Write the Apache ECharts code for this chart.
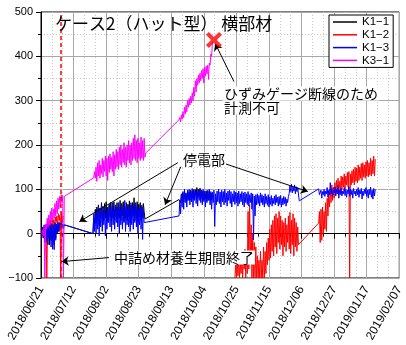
<!DOCTYPE html>
<html><head><meta charset="utf-8">
<script src="https://cdn.jsdelivr.net/npm/echarts@6/dist/echarts.min.js"></script>
<style>html,body{margin:0;padding:0;background:#fff}#c{width:406px;height:345px}</style>
</head><body><div id="c"></div>
<script>
// ---- axis range ----
const axisStart = '2018-06-21';
const axisEnd = '2019-02-07';
const tickDays = 21;
const yMin = -100, yMax = 500, yStep = 100;

const seriesNames = ['K1-1', 'K1-2', 'K1-3', 'K3-1'];

// ---- strain records: each segment = start time + daily [low, high] readings ----
// K1-1
const k11aStart = '2018-06-21 12:00';
const k11a = [[-5,12],[-10,15],[-15,18],[-20,20],[-10,22],[-25,18],[-15,22],[-20,20],[-25,24],[-10,22],[0,25],[5,24],[10,26],[12,22],[15,20],[16,20]];
const k11bStart = '2018-07-24 12:00';
const k11b = [[0,35],[20,55],[25,60],[30,65],[20,58],[35,70],[25,62],[30,68],[35,72],[25,60],[30,66],[40,70],[28,64],[35,72],[30,62],[38,70],[25,66],[35,75],[30,68],[40,72],[28,62],[35,70],[30,66],[38,74],[25,64],[35,70],[40,81],[30,68],[35,72],[28,66],[38,70],[30,64],[35,68],[50,33]];
const k11cStart = '2018-09-18';
const k11c = [[77,80],[70,88],[75,92],[72,95],[78,90],[74,96],[80,94],[76,98],[78,95],[80,100],[82,98],[85,104],[80,100],[84,102],[78,98],[80,96],[76,95],[78,97],[74,94],[78,96],[75,92],[76,94]];

// K1-2
const k12aStart = '2018-06-22 18:00';
const k12a = [[0,10],[5,20],[-100,25],[10,28],[15,30],[10,35],[20,32],[15,38],[25,40],[20,45],[30,42],[-100,48],[25,40]];
const k12bStart = '2018-10-24';
const k12b = [[-100,-70],[-100,-60],[-95,-50],[-100,-65],[-90,-40],[-100,-55],[-80,-35],[-100,-45],[-90,50],[-80,65],[-60,20],[-100,0],[-100,-20],[-100,-30],[-100,-50],[-100,-60],[-100,-40],[-100,-60],[-100,-30],[-100,-40],[-90,-20],[-70,-10],[-60,10],[-55,20],[-40,30],[-50,40],[-30,45],[-45,35],[-20,50],[-35,40],[-25,30],[-50,25],[-30,35],[-40,20],[-20,40],[-35,48],[-45,30],[-25,45],[-50,35],[-30,25],[-40,15],[-25,-25]];
const k12cStart = '2018-12-17';
const k12c = [[24,50],[-20,55],[-15,60],[0,50],[10,70],[5,80],[40,90],[60,100],[70,110],[75,105],[80,115],[85,120],[90,125],[95,118],[95,130],[100,128],[105,135],[100,130],[110,138],[105,140],[-100,135],[110,142],[115,145],[110,150],[118,148],[115,155],[120,150],[125,158],[120,160],[128,155],[125,162],[130,165],[128,160],[132,170],[130,165],[135,175],[130,168]];

// K1-3
const k13aStart = '2018-06-21 12:00';
const k13a = [[-10,15],[-5,20],[-20,18],[-15,22],[-25,15],[-10,20],[-30,22],[-35,20],[-36,25],[-15,22],[0,25],[5,25],[10,24],[15,22],[12,20],[16,18]];
const k13bStart = '2018-07-24 12:00';
const k13b = [[0,45],[5,45],[0,55],[10,60],[-5,50],[15,65],[5,55],[20,60],[-5,45],[10,55],[25,65],[15,60],[5,70],[20,55],[10,65],[25,60],[15,70],[0,55],[20,65],[10,60],[25,75],[5,60],[20,65],[15,55],[5,70],[20,60],[10,65],[25,70],[15,60],[0,55],[20,65],[10,60],[-13,55],[25,28]];
const k13cStart = '2018-09-18';
const k13c = [[40,75],[45,90],[60,95],[55,100],[70,92],[60,98],[75,100],[65,95],[72,102],[60,96],[75,100],[68,94],[62,98],[75,102],[70,95],[65,100],[72,96],[60,92],[70,98],[75,100],[65,95],[55,92],[70,98],[16,90],[65,96],[72,100],[68,94],[60,98],[72,95],[65,100],[70,92],[62,96],[75,98],[68,95],[60,90],[72,97],[66,94],[70,92],[62,96],[68,90],[72,95],[65,92],[60,94],[70,90],[66,95],[62,88],[70,92],[55,90],[-14,85],[40,88],[65,90],[68,86],[62,92],[70,88],[65,85],[60,90],[68,84],[64,88],[60,82],[66,86],[62,80],[68,85],[65,88],[70,82],[62,84],[66,86],[60,80],[65,84],[68,82],[62,78],[70,84],[90,108],[95,112],[92,105],[96,110],[90,106],[95,104],[100,74]];
const k13dStart = '2018-12-17';
const k13d = [[101,88],[85,98],[80,95],[88,100],[84,96],[90,104],[82,98],[88,115],[90,102],[84,98],[92,105],[86,100],[90,108],[80,98],[88,102],[85,96],[90,104],[86,100],[82,98],[90,106],[84,100],[88,98],[80,102],[90,96],[85,100],[88,104],[82,98],[90,102],[78,96],[86,100],[90,104],[84,98],[80,100],[88,105],[82,98],[78,102],[85,100]];

// K3-1
const k31aStart = '2018-06-21 12:00';
const k31a = [[0,8],[-5,15],[-100,22],[10,35],[15,42],[20,50],[25,58],[30,55],[35,68],[40,74],[45,80],[55,84],[60,88],[70,86],[-100,84],[80,82]];
const k31bStart = '2018-07-25';
const k31b = [[126,140],[125,150],[118,160],[130,165],[125,155],[135,170],[128,165],[140,175],[130,170],[120,175],[138,180],[145,172],[140,185],[130,178],[145,190],[150,185],[145,195],[155,200],[150,190],[160,205],[155,195],[150,200],[165,210],[160,200],[155,205],[165,215],[170,223],[165,210],[160,215],[170,205],[165,218],[170,210],[165,215],[172,182]];
const k31cStart = '2018-09-18';
const k31c = [[257,262],[252,268],[258,275],[262,285],[270,290],[275,300],[285,305],[290,310],[295,318],[300,330],[310,345],[320,350],[335,358],[340,362],[345,368],[350,372],[340,375],[355,378],[360,380],[348,385],[380,405],[400,432]];

// gauge failure point of K3-1
const gaugeBreak = ['2018-10-10 12:00', 437];
// end of infill curing period
const curingEnd = '2018-07-03 12:00';

// annotation arrows: [from, to] in (time, strain)
const gaugeArrow = [['2018-10-23 10:00', 343], ['2018-10-11 07:00', 429]];
const outageArrows = [
  [['2018-09-17 05:00', 160], ['2018-07-15 17:00', 27]],
  [['2018-09-19 02:00', 151], ['2018-09-09', 65]],
  [['2018-10-15 19:00', 160], ['2018-12-10', 95]]
];
const curingArrow = [['2018-08-03 19:00', -54], ['2018-07-04 07:00', -63]];

// ---- helpers ----
const DAY = 86400000;
function T(s) {
  const m = s.match(/(\d+)-(\d+)-(\d+)(?: (\d+):(\d+))?/);
  return Date.UTC(+m[1], +m[2] - 1, +m[3], m[4] ? +m[4] : 0, m[5] ? +m[5] : 0);
}
function band(start, pairs) {
  const t0 = T(start), out = [];
  pairs.forEach((p, i) => {
    out.push([t0 + i * DAY, p[0]]);
    out.push([t0 + (i + 0.5) * DAY, p[1]]);
  });
  return out;
}
function pad(n) { return (n < 10 ? '0' : '') + n; }
function fmtDate(v) {
  const d = new Date(v);
  return d.getUTCFullYear() + '/' + pad(d.getUTCMonth() + 1) + '/' + pad(d.getUTCDate());
}
function pt(p) { return [T(p[0]), p[1]]; }
function arrow(a) { return [{ coord: pt(a[0]) }, { coord: pt(a[1]) }]; }

const dataK11 = band(k11aStart, k11a).concat(band(k11bStart, k11b), band(k11cStart, k11c));
const dataK12 = band(k12aStart, k12a).concat([[T(k12aStart) + 14 * DAY, null]], band(k12bStart, k12b), band(k12cStart, k12c));
const dataK13 = band(k13aStart, k13a).concat(band(k13bStart, k13b), band(k13cStart, k13c), band(k13dStart, k13d));
const dataK31 = band(k31aStart, k31a).concat(band(k31bStart, k31b), band(k31cStart, k31c));

const colors = ['#000000', '#ff0000', '#0000ff', '#ff00ff'];
const jp = '"Noto Sans CJK JP", "Noto Sans", sans-serif';
const latin = '"Liberation Sans", Arial, sans-serif';

function lineSeries(name, data, color, extra) {
  return Object.assign({
    name, type: 'line', data, showSymbol: false, symbol: 'none',
    connectNulls: false, clip: true, animation: false,
    lineStyle: { color, width: 1 }, itemStyle: { color }
  }, extra || {});
}
function note(x, y, text) {
  return {
    type: 'text', x, y, z: 200,
    style: { text, font: '14px ' + jp, fill: '#000', verticalAlign: 'middle', backgroundColor: '#fff', padding: [0, 1, 0, 1] }
  };
}

const chart = echarts.init(document.getElementById('c'), null, { renderer: 'canvas' });
chart.setOption({
  animation: false,
  backgroundColor: '#fff',
  grid: { left: 41, right: 1, top: 12, bottom: 67, show: true, borderColor: '#000', borderWidth: 1, containLabel: false },
  xAxis: {
    type: 'value', min: T(axisStart), max: T(axisEnd), interval: tickDays * DAY,
    axisLine: { show: true, lineStyle: { color: '#000', width: 1 } },
    axisTick: { show: true, length: 5, lineStyle: { color: '#000' } },
    minorTick: { show: true, splitNumber: 3, length: 3, lineStyle: { color: '#000' } },
    splitLine: { show: true, lineStyle: { color: '#a8a8a8', width: 1 } },
    minorSplitLine: { show: true, lineStyle: { color: '#c8c8c8', type: [1, 2], width: 1 } },
    axisLabel: { rotate: 60, margin: 9, fontSize: 12, fontFamily: latin, color: '#000', formatter: fmtDate, showMinLabel: true, showMaxLabel: true, hideOverlap: false }
  },
  yAxis: {
    type: 'value', min: yMin, max: yMax, interval: yStep,
    axisLine: { show: true, lineStyle: { color: '#000', width: 1 } },
    axisTick: { show: true, length: 5, lineStyle: { color: '#000' } },
    minorTick: { show: true, splitNumber: 2, length: 3, lineStyle: { color: '#000' } },
    splitLine: { show: true, lineStyle: { color: '#a8a8a8', width: 1 } },
    minorSplitLine: { show: true, lineStyle: { color: '#c8c8c8', type: [1, 2], width: 1 } },
    axisLabel: { margin: 8, fontSize: 11, fontFamily: latin, color: '#000', formatter: v => (v < 0 ? '\u2212' + Math.abs(v) : '' + v) }
  },
  legend: {
    data: seriesNames, orient: 'vertical', left: 329, top: 15,
    icon: 'rect', itemWidth: 24, itemHeight: 1.5, itemGap: 0.8, padding: [1, 4, 1, 4],
    borderColor: '#000', borderWidth: 1, backgroundColor: '#fff', borderRadius: 0,
    textStyle: { fontSize: 11.5, lineHeight: 12, fontFamily: latin, color: '#000' },
    formatter: n => n.replace('-', '\u2212'), selectedMode: false
  },
  series: [
    lineSeries(seriesNames[0], dataK11, colors[0]),
    lineSeries(seriesNames[1], dataK12, colors[1], {
      markLine: {
        silent: true, symbol: ['none', 'none'], animation: false,
        label: { show: false },
        lineStyle: { color: '#ff0000', type: [4, 3], width: 1.5 },
        data: [{ xAxis: T(curingEnd) }]
      }
    }),
    lineSeries(seriesNames[2], dataK13, colors[2]),
    lineSeries(seriesNames[3], dataK31, colors[3], {
      markLine: {
        silent: true, symbol: ['none', 'arrow'], symbolSize: 7, animation: false,
        label: { show: false },
        lineStyle: { color: '#000', type: 'solid', width: 1 },
        emphasis: { disabled: true },
        data: [arrow(gaugeArrow), arrow(curingArrow)].concat(outageArrows.map(arrow))
      }
    }),
    {
      name: 'break', type: 'scatter', data: [pt(gaugeBreak)], animation: false, silent: true,
      symbol: 'path://M0,1.8L1.8,0L5,3.2L8.2,0L10,1.8L6.8,5L10,8.2L8.2,10L5,6.8L1.8,10L0,8.2L3.2,5Z',
      symbolSize: 16, itemStyle: { color: '#ff0000' }, z: 5
    }
  ],
  graphic: [
    { type: 'text', x: 55, y: 24, z: 200, style: { text: 'ケース2（ハット型） 横部材', font: '17px ' + jp, fill: '#000', verticalAlign: 'middle' } },
    note(223, 93.5, 'ひずみゲージ断線のため'),
    note(223, 107.5, '計測不可'),
    note(182, 159.5, '停電部'),
    note(113, 257.5, '中詰め材養生期間終了')
  ]
});
</script>
</body></html>
